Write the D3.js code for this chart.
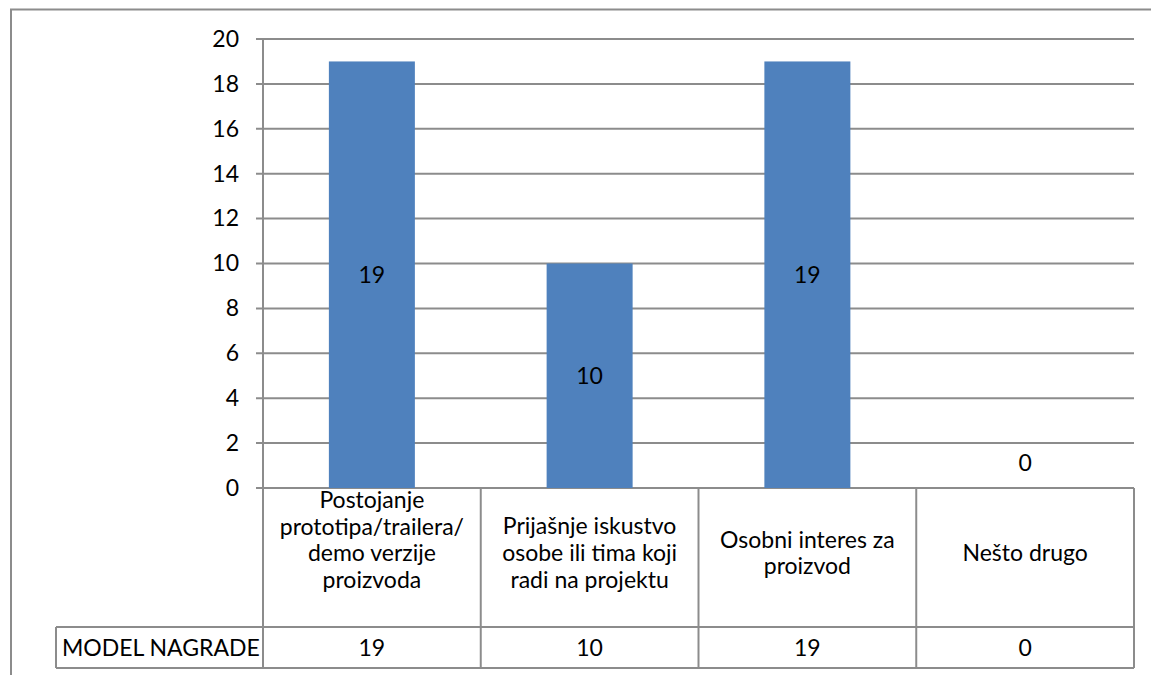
<!DOCTYPE html>
<html>
<head>
<meta charset="utf-8">
<script src="https://cdn.jsdelivr.net/npm/d3@7/dist/d3.min.js"></script>
<style>
  html, body { margin: 0; padding: 0; background: #fff; }
  svg { display: block; font-family: Lato, "Open Sans", sans-serif; }
</style>
</head>
<body>
<svg id="chart" width="1151" height="675"></svg>
<script>
// Categories (each split into the lines shown in the table header)
const categories = [
  ["Postojanje", "prototipa/trailera/", "demo verzije", "proizvoda"],
  ["Prijašnje iskustvo", "osobe ili tima koji", "radi na projektu"],
  ["Osobni interes za", "proizvod"],
  ["Nešto drugo"]
];
const seriesName = "MODEL NAGRADE";
const values = [19, 10, 19, 0];
const yTicks = [0, 2, 4, 6, 8, 10, 12, 14, 16, 18, 20];

const svg = d3.select("#chart");
const gridColor = "#8c8c8c";
const barColor = "#4f81bd";
const fontSize = 23;

// Outer frame (top and left edges visible)
svg.append("path")
  .attr("d", "M11,675 V9.5 H1151")
  .attr("fill", "none")
  .attr("stroke", gridColor)
  .attr("stroke-width", 2);

const plot = { left: 263, right: 1134, top: 39, bottom: 488 };
const table = { headerBottom: 627, bottom: 668, labelLeft: 56 };

const x = d3.scaleBand()
  .domain(d3.range(categories.length))
  .range([plot.left, plot.right])
  .paddingInner(0).paddingOuter(0);

const y = d3.scaleLinear().domain([0, 20]).range([plot.bottom, plot.top]);

// Horizontal gridlines (with tick stubs left of the axis)
svg.append("g")
  .selectAll("line")
  .data(yTicks)
  .join("line")
  .attr("x1", plot.left - 7)
  .attr("x2", plot.right)
  .attr("y1", d => y(d))
  .attr("y2", d => y(d))
  .attr("stroke", gridColor)
  .attr("stroke-width", 2);

// Y axis labels
const yAxis = d3.axisLeft(y).tickValues(yTicks).tickSize(0).tickPadding(24);
const gy = svg.append("g").attr("transform", `translate(${plot.left},0)`).call(yAxis);
gy.select(".domain").remove();
gy.selectAll("text")
  .attr("font-size", fontSize)
  .attr("font-family", "Lato, 'Open Sans', sans-serif")
  .attr("fill", "#000");

// Bars
const barW = 86;
svg.append("g")
  .selectAll("rect")
  .data(values)
  .join("rect")
  .attr("x", (d, i) => x(i) + x.bandwidth() / 2 - barW / 2)
  .attr("width", barW)
  .attr("y", d => y(d))
  .attr("height", d => y(0) - y(d))
  .attr("fill", barColor);

// Y axis line
svg.append("line")
  .attr("x1", plot.left).attr("x2", plot.left)
  .attr("y1", plot.top).attr("y2", plot.bottom)
  .attr("stroke", gridColor).attr("stroke-width", 2);

// Value labels centred in each bar
svg.append("g")
  .selectAll("text")
  .data(values)
  .join("text")
  .attr("x", (d, i) => x(i) + x.bandwidth() / 2)
  .attr("y", d => Math.min((y(d) + y(0)) / 2, y(0) - 25))
  .attr("dy", "0.35em")
  .attr("text-anchor", "middle")
  .attr("font-size", fontSize)
  .text(d => d);

// Data table grid
const tg = svg.append("g").attr("stroke", gridColor).attr("stroke-width", 2).attr("fill", "none");
const colEdges = d3.range(categories.length + 1).map(i => i < categories.length ? x(i) : plot.right);
colEdges.forEach(cx => {
  tg.append("line").attr("x1", cx).attr("x2", cx).attr("y1", plot.bottom).attr("y2", table.bottom);
});
tg.append("line").attr("x1", table.labelLeft).attr("x2", table.labelLeft)
  .attr("y1", table.headerBottom).attr("y2", table.bottom);
tg.append("line").attr("x1", table.labelLeft).attr("x2", plot.right)
  .attr("y1", table.headerBottom).attr("y2", table.headerBottom);
tg.append("line").attr("x1", table.labelLeft).attr("x2", plot.right)
  .attr("y1", table.bottom).attr("y2", table.bottom);

// Category header text
const lineH = 26.6;
const headerCenter = 553;
const header = svg.append("g").attr("font-size", fontSize).attr("text-anchor", "middle");
categories.forEach((lines, i) => {
  const n = lines.length;
  const firstY = n > 3 ? plot.bottom + 12 : headerCenter - (n - 1) / 2 * lineH;
  header.append("text")
    .selectAll("tspan")
    .data(lines)
    .join("tspan")
    .attr("x", x(i) + x.bandwidth() / 2)
    .attr("y", (d, k) => firstY + k * lineH)
    .attr("dy", "0.35em")
    .text(d => d);
});

// Series row
const rowY = (table.headerBottom + table.bottom) / 2;
svg.append("text")
  .attr("x", table.labelLeft + 6)
  .attr("y", rowY)
  .attr("dy", "0.35em")
  .attr("font-size", fontSize)
  .text(seriesName);
svg.append("g")
  .selectAll("text")
  .data(values)
  .join("text")
  .attr("x", (d, i) => x(i) + x.bandwidth() / 2)
  .attr("y", rowY)
  .attr("dy", "0.35em")
  .attr("text-anchor", "middle")
  .attr("font-size", fontSize)
  .text(d => d);
</script>
</body>
</html>
